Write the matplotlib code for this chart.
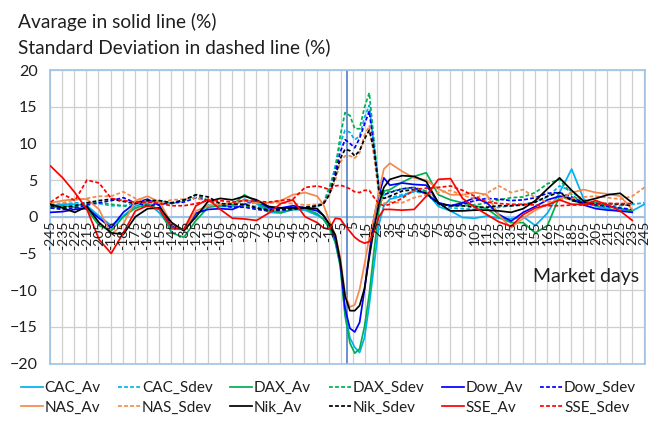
import numpy as np
import matplotlib
matplotlib.use('Agg')
import matplotlib.pyplot as plt
from matplotlib.transforms import offset_copy

plt.rcParams['font.family'] = ['Lato', 'DejaVu Sans']

# market days relative to the event (finer steps around day 0)
days = [-245, -235, -225, -215, -205, -195, -185, -175, -165, -155, -145, -135, -125,
        -115, -105, -95, -85, -75, -65, -55, -45, -35, -25,
        -20, -15, -10, -6, -2, 2, 6, 10, 14, 18, 22, 26, 30,
        35, 45, 55, 65, 75, 85, 95, 105, 115, 125, 135, 145, 155, 165, 175, 185,
        195, 205, 215, 225, 235, 245]
nan = np.nan

cac_av = [1.5, 1.7, 1.7, 1.5, 0.1, -1.2, 0.1, 1.5, 1.9, 0.5, -1.7, -1.7, 0.3,
          1.6, 1.4, 1.4, 2.4, 1.8, 0.6, 0.5, 1.0, 0.9, 0.2,
          -0.3, -1.5, -3.5, -6.5, -13.0, -16.5, -17.8, -18.5, -16.5, -12.0, -6.5, -1.0, 1.5,
          2.4, 2.8, 3.5, 3.4, 1.4, 0.8, -0.1, -0.2, 0.1, -0.2, -0.3, 0.0, -1.2, 0.5, 3.3, 6.5,
          2.4, 1.4, 1.1, 0.7, 0.8, 1.7]
cac_sd = [1.5, 1.7, 1.9, 1.9, 1.8, 1.5, 1.5, 1.8, 2.1, 2.2, 1.8, 2.2, 3.0,
          2.2, 1.6, 1.5, 1.6, 1.4, 1.0, 1.0, 1.2, 1.2, 1.4,
          1.7, 3.5, 7.0, 10.0, 11.8, 11.5, 10.5, 11.0, 13.5, 15.2, 9.5, 4.0, 3.0,
          2.6, 3.0, 3.4, 3.2, 1.6, 1.2, 1.1, 1.0, 1.1, 1.3, 1.5, 1.7, 2.0, 2.7, 4.2, 3.5,
          2.0, 1.6, 1.5, 1.5, 1.7, 1.9]
dax_av = [1.2, 1.5, 1.3, 1.0, -1.2, -1.9, 0.0, 1.2, 1.7, 1.0, -2.2, -2.8, -0.5,
          1.3, 1.5, 1.6, 3.0, 2.0, 0.9, 0.6, 1.0, 1.1, 0.4,
          -0.3, -1.5, -3.5, -6.7, -13.5, -17.2, -18.6, -18.0, -15.0, -10.5, -4.5, 1.0, 3.5,
          3.7, 4.7, 5.5, 6.0, 3.0, 2.3, 1.9, 1.5, 1.1, -0.1, -0.8, -0.8, -2.2, -1.2, 2.8, 2.3,
          1.7, 1.9, 1.5, 1.1, 0.8, nan]
dax_sd = [1.2, 1.2, 1.4, 1.8, 1.9, 1.7, 1.5, 1.2, 1.5, 1.9, 1.8, 2.2, 3.0,
          2.2, 1.7, 1.3, 1.4, 1.2, 0.8, 0.7, 1.0, 1.1, 1.4,
          1.8, 4.0, 6.5, 11.0, 14.2, 13.8, 12.0, 12.0, 14.9, 16.9, 10.2, 4.0, 3.3,
          3.4, 3.8, 4.0, 3.5, 1.8, 1.5, 1.5, 1.6, 1.9, 2.3, 2.6, 2.7, 3.3, 4.5, 5.1, 3.0,
          1.8, 1.5, 1.3, 1.1, 0.9, nan]
dow_av = [0.6, 0.7, 1.0, 1.2, -0.2, -1.5, 0.6, 1.9, 2.4, 1.5, -1.2, -1.8, 0.5,
          1.0, 1.1, 1.0, 1.7, 2.2, 1.2, 1.2, 1.5, 1.2, 0.8,
          0.2, -1.0, -3.0, -6.2, -12.5, -15.2, -15.7, -14.4, -10.0, -5.0, 0.0, 3.0, 5.3,
          4.3, 4.6, 4.4, 4.3, 1.9, 1.5, 1.9, 2.6, 1.9, 0.3, -0.6, 0.6, 1.4, 2.3, 2.8, 2.5,
          1.6, 1.1, 0.9, 0.8, 0.6, nan]
dow_sd = [1.2, 1.0, 1.2, 1.6, 1.9, 2.2, 2.6, 1.9, 1.5, 1.7, 1.9, 2.0, 2.6,
          2.2, 1.6, 1.3, 1.3, 1.0, 0.8, 0.9, 1.0, 1.2, 1.5,
          1.8, 3.0, 6.0, 8.8, 10.5, 10.0, 9.4, 10.7, 12.6, 14.4, 9.0, 3.8, 3.0,
          3.3, 3.8, 4.0, 3.0, 1.9, 1.5, 1.7, 2.2, 2.5, 2.4, 2.2, 2.3, 2.6, 3.2, 3.3, 2.7,
          1.9, 1.6, 1.4, 1.2, 1.0, nan]
nas_av = [1.9, 2.2, 2.4, 2.4, 1.0, -2.4, -1.0, 2.2, 2.8, 2.0, -1.0, -1.9, 0.8,
          1.5, 1.7, 1.9, 2.2, 1.9, 1.9, 2.2, 3.0, 3.3, 2.8,
          1.7, -0.5, -2.5, -5.5, -10.5, -12.3, -12.0, -9.9, -6.5, -2.8, 0.0, 3.5, 6.5,
          7.3, 6.2, 5.3, 5.0, 3.8, 3.0, 3.0, 3.3, 3.0, 0.2, -1.5, -0.2, 0.9, 1.7, 2.4, 3.3,
          3.7, 3.3, 3.1, 2.8, 1.0, nan]
nas_sd = [1.7, 1.9, 2.3, 2.5, 2.8, 2.8, 3.4, 2.5, 2.0, 1.9, 2.3, 2.4, 2.6,
          2.0, 1.8, 1.6, 1.7, 1.9, 1.9, 1.9, 1.8, 1.6, 1.7,
          1.9, 3.0, 5.0, 7.4, 8.3, 8.3, 8.0, 8.7, 11.1, 12.4, 8.0, 3.0, 1.8,
          2.0, 1.9, 2.6, 3.0, 3.3, 3.6, 2.9, 2.5, 3.2, 4.2, 3.3, 3.7, 2.6, 2.0, 2.4, 2.5,
          2.7, 2.8, 2.6, 2.4, 2.8, 4.0]
nik_av = [1.7, 1.2, 0.6, 1.4, -0.8, -2.2, -2.4, 0.0, 1.1, 1.2, -0.8, -1.9, 0.0,
          2.1, 2.5, 2.3, 2.8, 2.3, 1.4, 1.2, 1.2, 1.2, 1.1,
          0.2, -1.0, -2.5, -6.0, -10.8, -12.8, -12.8, -12.1, -9.8, -5.5, -1.5, 1.8, 4.0,
          5.1, 5.6, 5.5, 4.8, 1.9, 0.8, 0.8, 0.9, 0.9, 0.8, 0.6, 1.1, 2.2, 3.8, 5.3, 3.6,
          2.1, 2.5, 3.0, 3.2, 1.9, nan]
nik_sd = [1.5, 1.3, 1.5, 1.9, 2.2, 2.4, 2.1, 1.8, 2.2, 2.2, 1.9, 2.3, 3.0,
          2.7, 1.8, 1.7, 1.7, 1.2, 0.9, 1.0, 1.2, 1.3, 1.5,
          1.7, 3.0, 5.5, 7.9, 9.2, 9.0, 8.3, 9.0, 10.6, 11.8, 9.0, 3.5, 2.5,
          2.8, 3.5, 3.7, 3.2, 1.8, 1.5, 1.5, 1.3, 1.3, 1.5, 1.5, 1.6, 2.0, 2.8, 3.3, 2.2,
          1.9, 1.8, 1.8, 1.7, 1.5, nan]
sse_av = [6.9, 5.3, 3.3, 1.0, -3.1, -5.0, -2.2, 0.8, 1.5, 1.0, -1.5, -1.7, 1.5,
          2.4, 1.0, -0.2, -0.3, -0.5, 0.5, 1.8, 2.3, 0.0, -0.8,
          -1.5, -1.7, -0.2, -0.3, -1.2, -2.0, -2.8, -3.3, -3.6, -3.4, -2.0, 0.0, 1.0,
          1.0, 0.9, 1.0, 2.8, 5.1, 5.2, 2.5, 1.3, 0.3, -0.7, -1.3, 0.3, 1.2, 1.6, 2.3, 1.7,
          1.7, 2.2, 1.6, 0.8, -0.5, nan]
sse_sd = [2.0, 3.1, 2.2, 5.0, 4.6, 2.5, 2.2, 2.0, 2.0, 1.8, 1.5, 1.5, 1.8,
          2.2, 2.2, 2.0, 2.2, 2.1, 2.0, 2.2, 2.4, 4.0, 4.2,
          4.0, 3.7, 4.2, 4.3, 4.1, 3.8, 3.4, 3.3, 3.6, 3.6, 2.6, 1.8, 1.5,
          1.7, 2.5, 3.7, 3.9, 4.0, 4.2, 3.6, 2.8, 2.0, 1.8, 1.7, 1.7, 1.6, 1.5, 1.5, 1.6,
          1.6, 1.7, 1.8, 1.8, 1.8, nan]

# tick labels every 10 days
tick_days = list(range(-245, 246, 10))

series = [
    ('CAC', '#00B0F0', cac_av, cac_sd),
    ('DAX', '#00B050', dax_av, dax_sd),
    ('Dow', '#0000FF', dow_av, dow_sd),
    ('NAS', '#F4894B', nas_av, nas_sd),
    ('Nik', '#000000', nik_av, nik_sd),
    ('SSE', '#FF0000', sse_av, sse_sd),
]

border = '#9DC3E6'
txt = '#1f1f1f'
fig = plt.figure(figsize=(6.57, 4.22), dpi=100)
ax = fig.add_axes([0.0761, 0.1386, 0.9817 - 0.0761, 0.8341 - 0.1386])

lines = {}
for name, col, av, sd in series:
    l1, = ax.plot(days, av, color=col, lw=1.25, label=name + '_Av', zorder=3)
    l2, = ax.plot(days, sd, color=col, lw=1.25, dashes=(2.2, 1.3),
                  label=name + '_Sdev', zorder=3)
    lines[name + '_Av'] = l1
    lines[name + '_Sdev'] = l2

ax.set_xlim(-245.5, 245.5)
ax.set_ylim(-20, 20)
ax.set_yticks(range(-20, 21, 5))
ax.set_xticks(np.arange(-245.5, 246, 10))
ax.set_xticklabels([])
ax.grid(True, color='#CFCFCF', lw=0.9, zorder=0)
ax.tick_params(axis='both', length=0)
ax.tick_params(axis='y', labelsize=11.5, pad=9, labelcolor=txt)
for s in ax.spines.values():
    s.set_color(border)
    s.set_linewidth(1.2)

ax.axhline(0, color=border, lw=1.5, zorder=2)
ax.axvline(-0.5, color='#4472C4', lw=1.1, zorder=2)

# day labels hang under the zero line
trans = offset_copy(ax.transData, fig=fig, x=0, y=-3, units='points')
for d in tick_days:
    ax.text(d, 0, str(d), rotation=90, ha='center', va='top', fontsize=10,
            color=txt, transform=trans, zorder=4)

ax.text(241, -8.2, 'Market days', ha='right', va='center', fontsize=14, color=txt)

fig.text(0.027, 0.948, 'Avarage in solid line (%)', fontsize=13.8, va='center', color=txt)
fig.text(0.027, 0.889, 'Standard Deviation in dashed line (%)', fontsize=13.8, va='center',
         color=txt)

# legend filled column-wise, so interleave the two rows
order = ['CAC_Av', 'NAS_Av', 'CAC_Sdev', 'NAS_Sdev', 'DAX_Av', 'Nik_Av',
         'DAX_Sdev', 'Nik_Sdev', 'Dow_Av', 'SSE_Av', 'Dow_Sdev', 'SSE_Sdev']
fig.legend([lines[k] for k in order], order, loc='center', ncol=6,
           bbox_to_anchor=(0.5, 0.057), frameon=False, fontsize=11,
           handlelength=1.45, handletextpad=0.1, columnspacing=1.15,
           labelspacing=0.35, labelcolor=txt)

fig.savefig('out.png', dpi=100)
